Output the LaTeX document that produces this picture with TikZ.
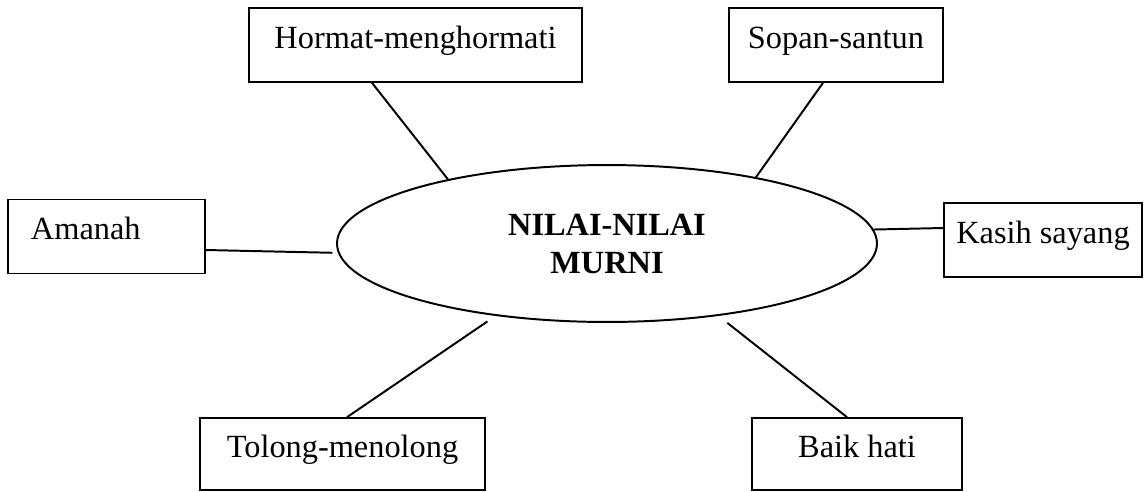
\documentclass[tikz,border=0pt]{standalone}
\usepackage{fontspec}
\setmainfont{Liberation Serif}
\usetikzlibrary{shapes.geometric, calc}

\begin{document}
\begin{tikzpicture}[x=0.0125cm, y=-0.0125cm, font=\fontsize{11.5}{13.5}\selectfont,
        box/.style={draw, rectangle, line width=0.6pt, minimum height=26.3pt, text height=8pt, text depth=5.8pt},
        link/.style={line width=0.7pt}]
        \useasboundingbox (0,0) rectangle (1144,491);

        \node[draw, ellipse, line width=0.7pt, minimum width=192pt, minimum height=55.8pt, inner sep=0pt, align=center, font=\fontsize{11.5}{13.5}\selectfont\bfseries] (nilai) at (607,243.5) {NILAI-NILAI\\MURNI};

        \node[box, minimum width=118.4pt] (hormat) at (415.5,45) {Hormat-menghormati};
        \node[box, minimum width=76.1pt] (sopan) at (836,45) {Sopan-santun};
        \node[box, text width=53.7pt, inner xsep=8.2pt, align=left] (amanah) at (106.5,236.5) {Amanah};
        \node[box, minimum width=70.4pt] (kasih) at (1043,240) {Kasih sayang};
        \node[box, minimum width=101.4pt, minimum height=25.6pt] (tolong) at (342.5,454) {Tolong-menolong};
        \node[box, minimum width=74.7pt, minimum height=25.6pt] (baik) at (857,454) {Baik hati};

        \draw[link] ($(hormat.south)+(-43.5,0)$) -- (nilai.158.5);
        \draw[link] ($(sopan.south)+(-13,0)$) -- (nilai.24.2);
        \draw[link, shorten >=2pt] ($(amanah.east)+(0,13.5)$) -- (nilai.182);
        \draw[link] (nilai.3.3) -- ($(kasih.west)+(0,-12)$);
        \draw[link, shorten >=3.5pt] ($(tolong.north)+(4.5,0)$) -- (nilai.213.4);
        \draw[link, shorten >=4pt] ($(baik.north)+(-10,0)$) -- (nilai.327.6);

      \end{tikzpicture}
\end{document}
